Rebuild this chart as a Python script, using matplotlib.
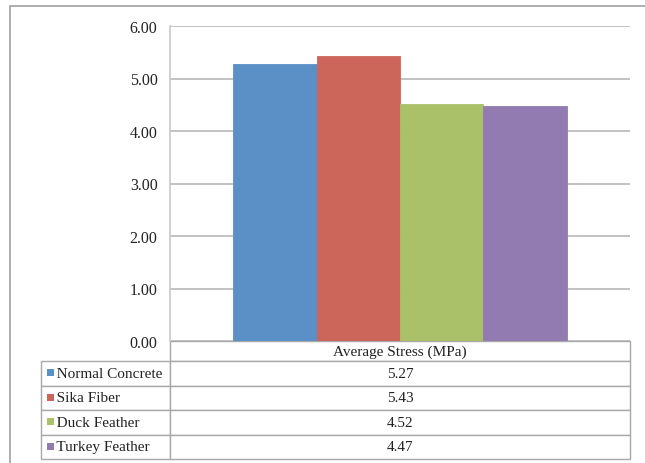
import matplotlib
matplotlib.use("Agg")
import matplotlib.pyplot as plt
from matplotlib.patches import Rectangle
from matplotlib.table import Table

series = ["Normal Concrete", "Sika Fiber", "Duck Feather", "Turkey Feather"]
values = [5.27, 5.43, 4.52, 4.47]
value_labels = ["5.27", "5.43", "4.52", "4.47"]
category = "Average Stress (MPa)"
yticks = [0, 1, 2, 3, 4, 5, 6]
colors = ["#5B90C6", "#CC655A", "#AAC16A", "#917BB0"]

plt.rcParams["font.family"] = ["Liberation Serif", "DejaVu Serif"]

W, H = 645, 464
fig = plt.figure(figsize=(W / 100, H / 100), dpi=100)

# outer chart frame (cut off at right/bottom like the original)
fig.add_artist(Rectangle((10 / W, -0.1), 1.2, 1 - 7 / H + 0.1,
                         transform=fig.transFigure, fill=False,
                         edgecolor="#a0a0a0", lw=1.2))

ax = fig.add_axes([170 / W, 1 - 342 / H, 460 / W, 315 / H])

group = 0.724
bw = group / len(series)
for i, (v, c) in enumerate(zip(values, colors)):
    x = -group / 2 + bw * (i + 0.5)
    ax.bar(x, v, width=bw, color=c, edgecolor=c, lw=0.6, zorder=3)

ax.set_xlim(-0.5, 0.5)
ax.set_ylim(0, 6)
ax.set_yticks(yticks)
ax.set_yticklabels([f"{t:.2f}" for t in yticks], fontsize=11.5, color="#222222")
ax.set_xticks([])
ax.tick_params(axis="y", length=0, pad=9)
ax.yaxis.grid(True, color="#bdbdbd", lw=1.3, zorder=0)
for s in ["top", "right", "bottom"]:
    ax.spines[s].set_visible(False)
ax.spines["left"].set_color("#c8c8c8")
ax.spines["left"].set_linewidth(1.2)

# data table under the plot
label_w, data_w = 129, 460
head_h, row_h = 20, 24.5
tot_h = head_h + row_h * len(series)
tab = Table(ax, bbox=[-label_w / 460, -tot_h / 315, (label_w + data_w) / 460, tot_h / 315])
edge = "#a8a8a8"
tab.add_cell(0, 1, width=data_w, height=head_h, text=category, loc="center",
             edgecolor=edge)
for r, (name, lab) in enumerate(zip(series, value_labels), start=1):
    tab.add_cell(r, 0, width=label_w, height=row_h, text="   " + name,
                 loc="left", edgecolor=edge)
    tab.add_cell(r, 1, width=data_w, height=row_h, text=lab, loc="center",
                 edgecolor=edge)
tab.auto_set_font_size(False)
tab.set_fontsize(11)
for cell in tab.get_celld().values():
    cell.get_text().set_color("#222222")
    cell.PAD = 0.03
ax.add_table(tab)

# legend keys in the row label cells
y_top = 342 + head_h
for r, col in enumerate(colors):
    yc = y_top + row_h * (r + 0.5)
    fig.add_artist(Rectangle((47 / W, 1 - (yc + 3) / H), 7 / W, 7 / H,
                             transform=fig.transFigure, facecolor=col, edgecolor="none"))

fig.savefig("out.png", dpi=100)
